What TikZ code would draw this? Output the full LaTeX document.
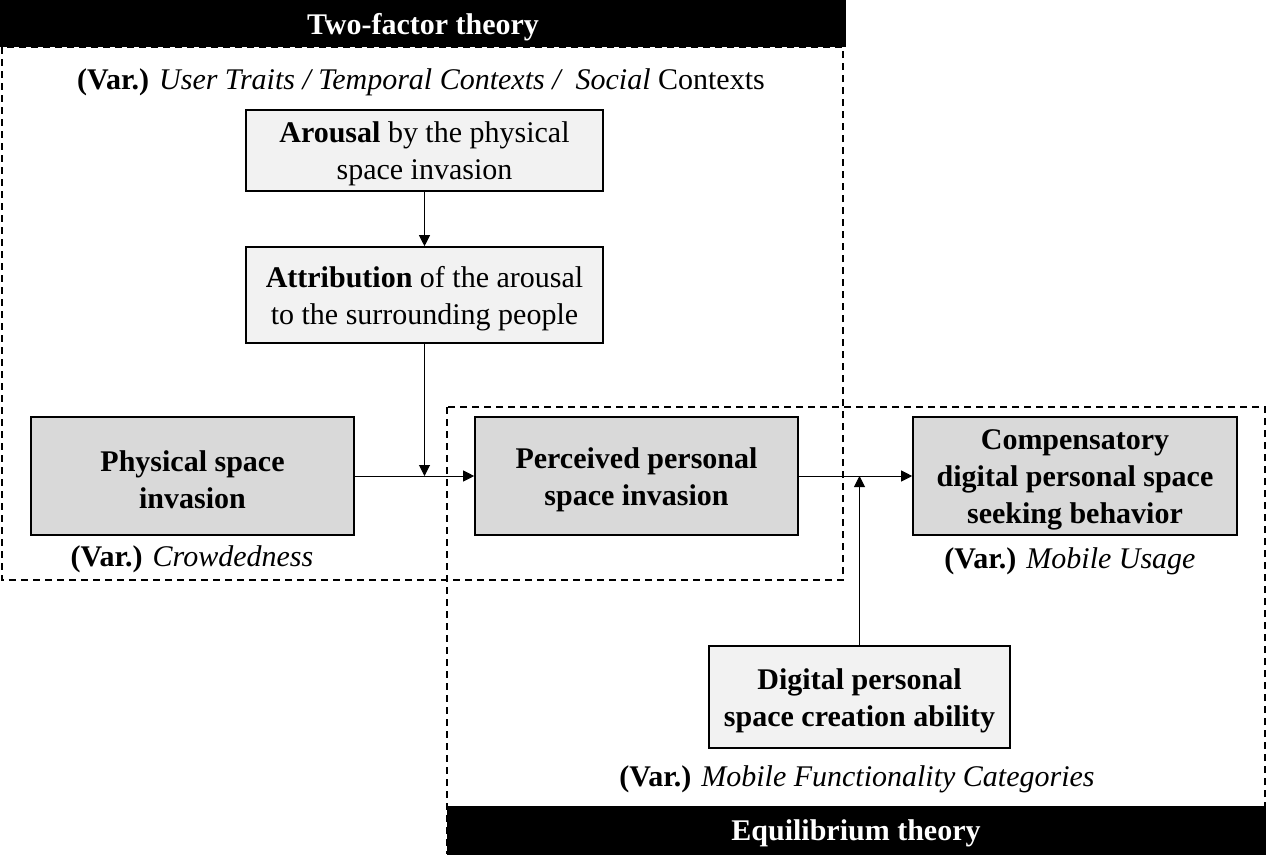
\documentclass[tikz,border=0pt]{standalone}
\usepackage{fontspec}
\setmainfont{Liberation Serif}
\usetikzlibrary{arrows.meta}
\definecolor{lightbox}{HTML}{F2F2F2}
\definecolor{darkbox}{HTML}{D9D9D9}
\begin{document}
\begin{tikzpicture}[x=1pt,y=-1pt,
  every node/.style={font=\fontsize{30}{37}\selectfont, align=center, inner sep=0pt},
  txt/.style={yshift=-3.5pt},
  btxt/.style={txt, font=\fontsize{30}{37}\selectfont\bfseries},
  box/.style={draw=black, line width=1.6pt},
  lbox/.style={box, fill=lightbox},
  dbox/.style={box, fill=darkbox},
  frame/.style={draw=black, dashed, dash pattern=on 7pt off 5pt, line width=1.3pt},
  bar/.style={fill=black, draw=none},
  bartext/.style={txt, text=white, font=\fontsize{30}{36}\selectfont\bfseries},
  conn/.style={draw=black, line width=1pt},
  arr/.style={conn, -{Triangle[length=11pt,width=11pt]}}
]
\useasboundingbox (0,0) rectangle (1267,855);
% frames
\draw[frame] (2,47) rectangle (843,580);
\draw[frame] (447,407) rectangle (1265,853);
% bars
\path[bar] (0,0) rectangle (846,47);
\node[bartext] (t1) at (423,24) {Two-factor theory};
\path[bar] (447,806) rectangle (1266,855);
\node[bartext] (t2) at (856,830) {Equilibrium theory};
% labels
\node[txt] (v1) at (421,79) {\textbf{(Var.)} \textit{User Traits / Temporal Contexts /\ \ Social} Contexts};
% boxes
\node[lbox, minimum width=357pt, minimum height=81pt] (arousal) at (424.5,150.5) {};
\node[txt] (arousalT) at (arousal.center) {\textbf{Arousal} by the physical\\space invasion};
\node[lbox, minimum width=357pt, minimum height=96pt] (attr) at (424.5,295) {};
\node[txt] (attrT) at (attr.center) {\textbf{Attribution} of the arousal\\to the surrounding people};
\node[dbox, minimum width=323pt, minimum height=118pt] (phys) at (192.5,476) {};
\node[btxt] (physT) at (phys.center) {Physical space\\invasion};
\node[dbox, minimum width=323pt, minimum height=118pt] (perc) at (636.5,476) {};
\node[btxt] (percT) at (perc.center) {Perceived personal\\space invasion};
\node[dbox, minimum width=324pt, minimum height=118pt] (comp) at (1075,476) {};
\node[btxt] (compT) at (comp.center) {Compensatory\\digital personal space\\seeking behavior};
\node[lbox, minimum width=301pt, minimum height=102pt] (dig) at (859.5,697) {};
\node[btxt] (digT) at (dig.center) {Digital personal\\space creation ability};
\node[txt] (v2) at (192,556) {\textbf{(Var.)} \textit{Crowdedness}};
\node[txt] (v3) at (1070,558) {\textbf{(Var.)} \textit{Mobile Usage}};
\node[txt] (v4) at (857,776) {\textbf{(Var.)} \textit{Mobile Functionality Categories}};
% connectors
\coordinate (j1) at (attr.south |- phys.east);
\coordinate (j2) at (dig.north |- perc.east);
\draw[arr] (arousal) -- (attr);
\draw[arr] (phys.east) -- (perc.west);
\draw[arr] (attr.south) -- (j1);
\draw[arr] (perc.east) -- (comp.west);
\draw[arr] (dig.north) -- (j2);
\end{tikzpicture}
\end{document}
